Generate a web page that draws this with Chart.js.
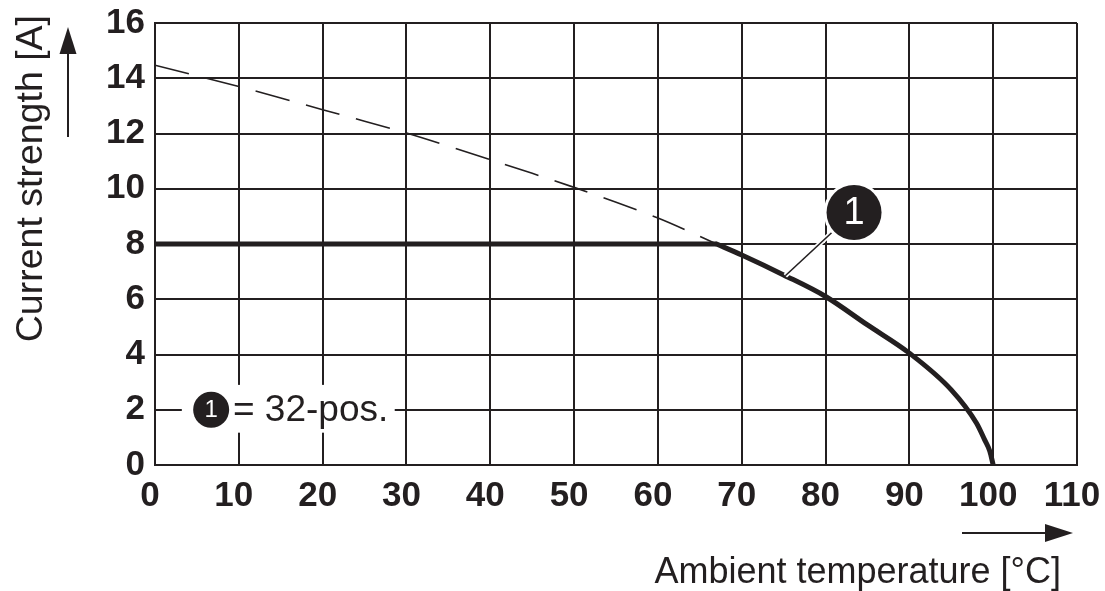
<!DOCTYPE html>
<html>
<head>
<meta charset="utf-8">
<script src="https://cdn.jsdelivr.net/npm/chart.js@4.4.0/dist/chart.umd.min.js"></script>
<style>
  html, body { margin: 0; padding: 0; background: #fff; }
  canvas { display: block; }
</style>
</head>
<body>
<canvas id="derating" width="1105" height="591"></canvas>
<script>
// ambient temperature [°C] against current strength [A]
const flatTemp = [0, 67];
const flatCurrent = [8, 8];
const curveTemp = [67, 70, 75, 80, 85, 90, 95, 98, 99, 99.6, 100];
const curveCurrent = [8, 7.6, 6.88, 6.1, 5.07, 4.05, 2.72, 1.52, 0.9, 0.5, 0];
const dashTemp = [0, 10, 20, 30, 40, 50, 60, 67];
const dashCurrent = [14.47, 13.7, 12.86, 12.02, 11.05, 10.05, 8.94, 8.0];
const xTickValues = [0, 10, 20, 30, 40, 50, 60, 70, 80, 90, 100, 110];
const yTickValues = [0, 2, 4, 6, 8, 10, 12, 14, 16];

const ink = '#231f20';
const font = 'Liberation Sans, Arial, Helvetica, sans-serif';

const pts = (xs, ys) => xs.map((v, i) => ({ x: v, y: ys[i] }));

function arrow(ctx, x1, y1, x2, y2, len, half) {
  const a = Math.atan2(y2 - y1, x2 - x1);
  ctx.beginPath();
  ctx.moveTo(x1, y1);
  ctx.lineTo(x2 - Math.cos(a) * len * 0.8, y2 - Math.sin(a) * len * 0.8);
  ctx.stroke();
  ctx.beginPath();
  ctx.moveTo(x2, y2);
  ctx.lineTo(x2 - Math.cos(a) * len - Math.sin(a) * half, y2 - Math.sin(a) * len + Math.cos(a) * half);
  ctx.lineTo(x2 - Math.cos(a) * len + Math.sin(a) * half, y2 - Math.sin(a) * len - Math.cos(a) * half);
  ctx.closePath();
  ctx.fill();
}

function badge(ctx, cx, cy, r, size) {
  ctx.beginPath();
  ctx.arc(cx, cy, r + 3, 0, Math.PI * 2);
  ctx.fillStyle = '#fff';
  ctx.fill();
  ctx.beginPath();
  ctx.arc(cx, cy, r, 0, Math.PI * 2);
  ctx.fillStyle = ink;
  ctx.fill();
  ctx.fillStyle = '#fff';
  ctx.font = size + 'px ' + font;
  ctx.textAlign = 'center';
  ctx.textBaseline = 'middle';
  ctx.fillText('1', cx, cy + 1);
}

const overlay = {
  id: 'overlay',
  afterDatasetsDraw(chart) {
    const { ctx, scales: { x, y } } = chart;
    ctx.save();

    // legend box "1 = 32-pos."
    const bx1 = x.getPixelForValue(3.2), bx2 = x.getPixelForValue(28.6);
    const by1 = y.getPixelForValue(2.9), by2 = y.getPixelForValue(1.17);
    ctx.fillStyle = '#fff';
    ctx.fillRect(bx1, by1, bx2 - bx1, by2 - by1);
    const ly = y.getPixelForValue(2);
    badge(ctx, x.getPixelForValue(6.7), ly, 18, 24);
    ctx.fillStyle = ink;
    ctx.font = '37px ' + font;
    ctx.textAlign = 'left';
    ctx.textBaseline = 'middle';
    ctx.fillText('= 32-pos.', x.getPixelForValue(9.3), ly + 1);

    // callout on the curve
    const cx = x.getPixelForValue(83.4), cy = y.getPixelForValue(9.14);
    const tx = x.getPixelForValue(75.2), ty = y.getPixelForValue(6.85);
    ctx.lineCap = 'butt';
    ctx.strokeStyle = '#fff';
    ctx.lineWidth = 5;
    ctx.beginPath(); ctx.moveTo(cx - 20, cy + 18); ctx.lineTo(tx, ty); ctx.stroke();
    ctx.strokeStyle = ink;
    ctx.lineWidth = 1.6;
    ctx.beginPath(); ctx.moveTo(cx - 20, cy + 18); ctx.lineTo(tx, ty); ctx.stroke();
    badge(ctx, cx, cy, 27.5, 38);

    // axis titles and arrows
    ctx.fillStyle = ink;
    ctx.strokeStyle = ink;
    ctx.lineWidth = 2;
    ctx.font = '36px ' + font;
    ctx.textBaseline = 'alphabetic';
    ctx.textAlign = 'right';
    ctx.fillText('Ambient temperature [°C]', 1061, 583);
    arrow(ctx, 962, 533, 1073, 533, 28, 9);

    ctx.save();
    ctx.font = '37.5px ' + font;
    ctx.translate(42, 15);
    ctx.rotate(-Math.PI / 2);
    ctx.textAlign = 'right';
    ctx.fillText('Current strength [A]', 0, 0);
    ctx.restore();
    arrow(ctx, 68, 137, 68, 27, 27, 8.5);

    ctx.restore();
  }
};

new Chart(document.getElementById('derating'), {
  type: 'line',
  data: {
    datasets: [
      {
        data: pts(dashTemp, dashCurrent),
        borderColor: ink,
        borderWidth: 1.6,
        borderDash: [35, 17],
        pointRadius: 0,
        tension: 0.3
      },
      {
        data: pts(flatTemp, flatCurrent),
        borderColor: ink,
        borderWidth: 5,
        pointRadius: 0
      },
      {
        data: pts(curveTemp, curveCurrent),
        borderColor: ink,
        borderWidth: 5,
        borderCapStyle: 'round',
        pointRadius: 0,
        cubicInterpolationMode: 'monotone'
      }
    ]
  },
  options: {
    responsive: false,
    animation: false,
    devicePixelRatio: 1,
    layout: { padding: { top: 23, right: 28, left: 0, bottom: 0 } },
    plugins: { legend: { display: false }, tooltip: { enabled: false } },
    scales: {
      x: {
        type: 'linear',
        min: 0,
        max: 110,
        afterBuildTicks: s => { s.ticks = xTickValues.map(v => ({ value: v })); },
        afterFit: s => { s.height = 126; s.paddingLeft = 0; s.paddingRight = 0; },
        grid: { color: ink, lineWidth: 2, drawTicks: false },
        border: { color: ink, width: 2 },
        ticks: { color: ink, padding: 10, labelOffset: -5, maxRotation: 0, font: { family: font, size: 35, weight: 'bold' } }
      },
      y: {
        min: 0,
        max: 16,
        afterBuildTicks: s => { s.ticks = yTickValues.map(v => ({ value: v })); },
        afterFit: s => { s.width = 155; s.paddingTop = 0; s.paddingBottom = 0; },
        grid: { color: ink, lineWidth: 2, drawTicks: false },
        border: { color: ink, width: 2 },
        ticks: { color: ink, padding: 10, font: { family: font, size: 35, weight: 'bold' } }
      }
    }
  },
  plugins: [overlay]
});
</script>
</body>
</html>
